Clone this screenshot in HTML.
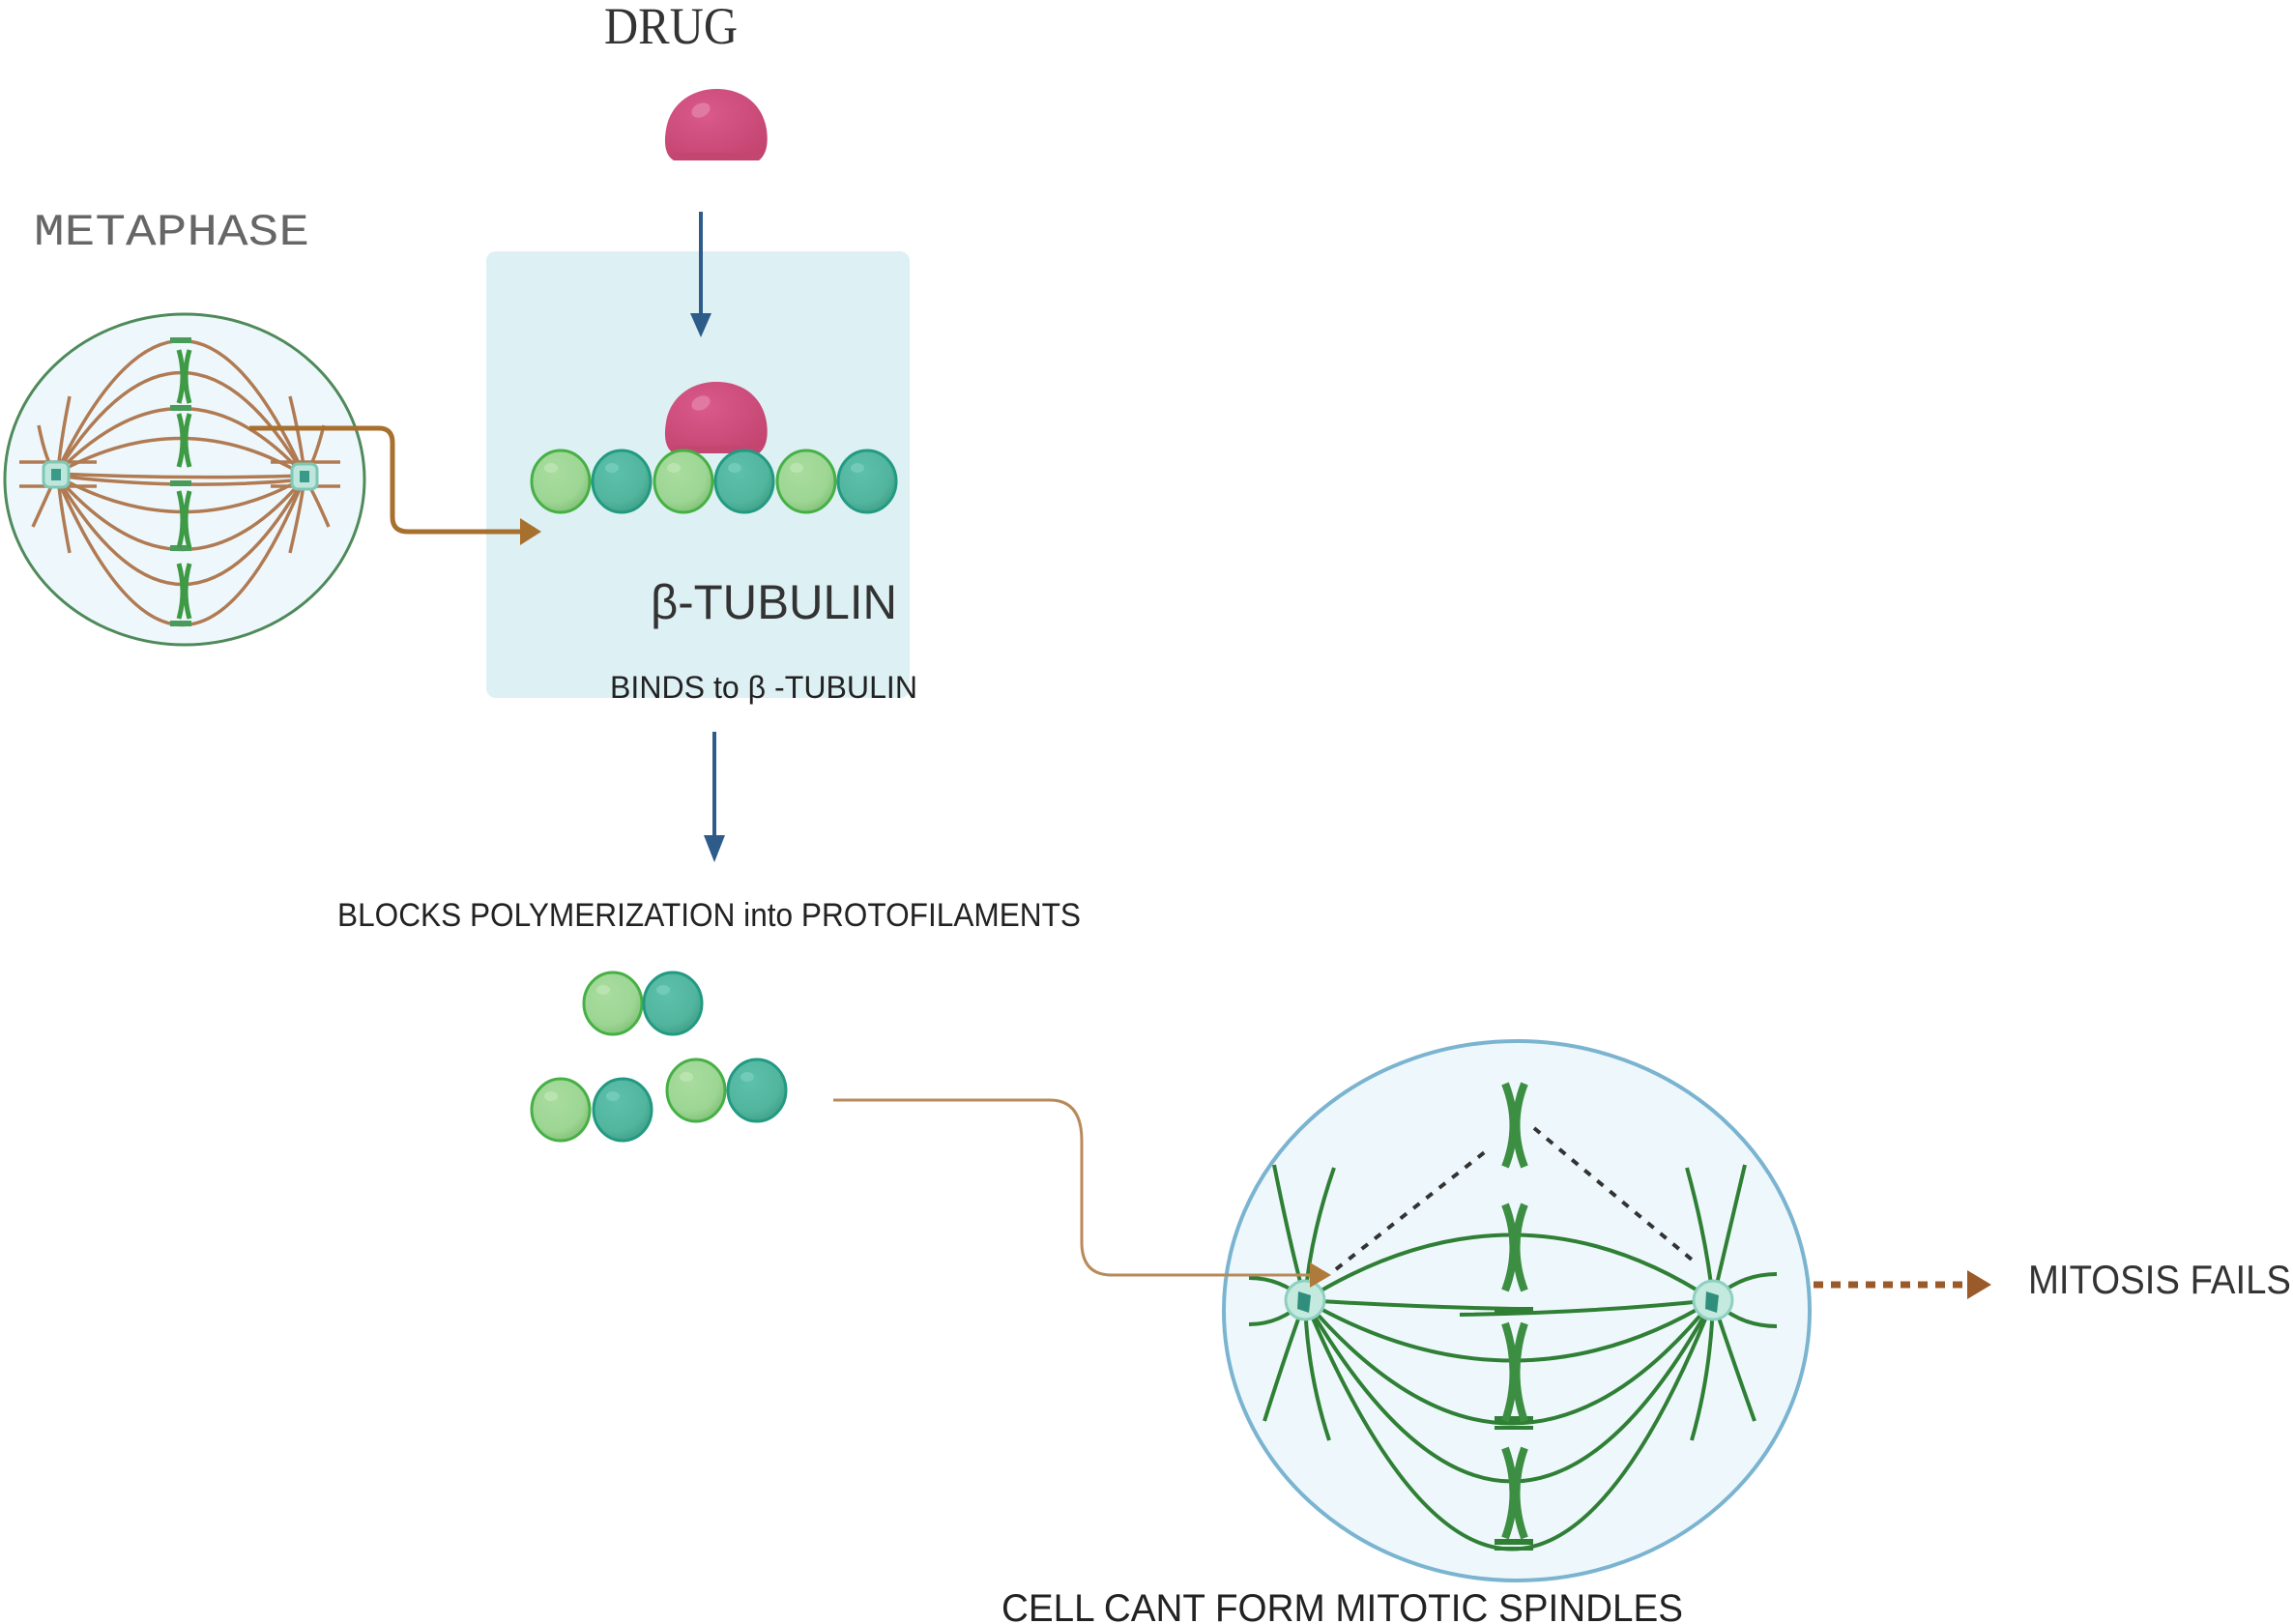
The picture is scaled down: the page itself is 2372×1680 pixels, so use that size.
<!DOCTYPE html>
<html><head><meta charset="utf-8"><style>
html,body{margin:0;padding:0;background:#fff;}
svg{display:block;}
</style></head><body>
<svg width="2372" height="1680" viewBox="0 0 2372 1680" xmlns="http://www.w3.org/2000/svg">
<defs>
<radialGradient id="lg" cx="0.4" cy="0.35" r="0.7"><stop offset="0" stop-color="#a8dc9e"/><stop offset="0.7" stop-color="#9dd694"/><stop offset="1" stop-color="#7fbf74"/></radialGradient>
<radialGradient id="tg" cx="0.4" cy="0.35" r="0.7"><stop offset="0" stop-color="#5cc0ac"/><stop offset="0.7" stop-color="#52b59e"/><stop offset="1" stop-color="#3f9e86"/></radialGradient>
<radialGradient id="dg" cx="0.4" cy="0.35" r="0.75"><stop offset="0" stop-color="#d95a8c"/><stop offset="1" stop-color="#c4446f"/></radialGradient>
<symbol id="bl" viewBox="-32 -34 64 68"><ellipse cx="0" cy="0" rx="30" ry="32" fill="url(#lg)" stroke="#46b045" stroke-width="3"/><ellipse cx="-10" cy="-14" rx="7" ry="5" fill="#b9e4b0"/></symbol>
<symbol id="bt" viewBox="-32 -34 64 68"><ellipse cx="0" cy="0" rx="30" ry="32" fill="url(#tg)" stroke="#229a82" stroke-width="3"/><ellipse cx="-10" cy="-14" rx="7" ry="5" fill="#72cab8"/></symbol>
<symbol id="drug" viewBox="0 0 108 80"><path d="M10,76 C0,70 0,56 2,44 C6,18 28,2 54,2 C82,2 102,18 106,44 C108,58 106,70 98,76 Z" fill="url(#dg)"/><path d="M10,76 L98,76 C100,72 100,70 98,68 L10,68 C8,70 8,72 10,76Z" fill="#c24670"/><ellipse cx="38" cy="24" rx="10" ry="7" fill="#e07aa2" transform="rotate(-25 38 24)"/></symbol>
</defs>

<text x="625" y="45" font-family="Liberation Serif, serif" font-size="54" fill="#333" textLength="138" lengthAdjust="spacingAndGlyphs">DRUG</text>
<text x="35" y="253" font-family="Liberation Mono, monospace" font-size="46" fill="#666" textLength="285" lengthAdjust="spacingAndGlyphs">METAPHASE</text>

<use href="#drug" x="687" y="90" width="108" height="80"/>
<rect x="503" y="260" width="438" height="462" rx="10" fill="#ddf0f4"/>
<line x1="725" y1="219" x2="725" y2="330" stroke="#2d5b8a" stroke-width="4"/>
<path d="M714,324 L736,324 L725,349 Z" fill="#2d5b8a"/>
<use href="#drug" x="687" y="393" width="108" height="80"/>
<use href="#bl" x="548" y="464" width="64" height="68"/>
<use href="#bt" x="611" y="464" width="64" height="68"/>
<use href="#bl" x="675" y="464" width="64" height="68"/>
<use href="#bt" x="738" y="464" width="64" height="68"/>
<use href="#bl" x="802" y="464" width="64" height="68"/>
<use href="#bt" x="865" y="464" width="64" height="68"/>
<text x="673" y="640" font-family="Liberation Sans, sans-serif" font-size="50" fill="#333" textLength="255" lengthAdjust="spacingAndGlyphs">β-TUBULIN</text>
<text x="631" y="722" font-family="Liberation Sans, sans-serif" font-size="32" fill="#222" textLength="318" lengthAdjust="spacingAndGlyphs">BINDS to β -TUBULIN</text>

<line x1="739" y1="757" x2="739" y2="870" stroke="#2d5b8a" stroke-width="4"/>
<path d="M728,864 L750,864 L739,892 Z" fill="#2d5b8a"/>
<text x="349" y="958" font-family="Liberation Sans, sans-serif" font-size="34" fill="#222" textLength="769" lengthAdjust="spacingAndGlyphs">BLOCKS POLYMERIZATION into PROTOFILAMENTS</text>

<use href="#bl" x="602" y="1004" width="64" height="68"/>
<use href="#bt" x="664" y="1004" width="64" height="68"/>
<use href="#bl" x="548" y="1114" width="64" height="68"/>
<use href="#bt" x="612" y="1114" width="64" height="68"/>
<use href="#bl" x="688" y="1094" width="64" height="68"/>
<use href="#bt" x="751" y="1094" width="64" height="68"/>

<!-- metaphase cell -->
<ellipse cx="191" cy="496" rx="186" ry="171" fill="#eef8fc" stroke="#4e8a5a" stroke-width="3"/>
<g fill="none" stroke="#b07a52" stroke-width="3.5">
<path d="M58,490 Q190,214 315,492"/>
<path d="M58,490 Q190,280 315,492"/>
<path d="M58,490 Q190,354 315,492"/>
<path d="M58,490 Q190,416 315,492"/>
<path d="M58,490 Q190,496 315,492"/>
<path d="M58,492 Q190,508 315,496"/>
<path d="M58,492 Q190,566 315,494"/>
<path d="M58,492 Q190,644 315,494"/>
<path d="M58,492 Q190,716 315,494"/>
<path d="M58,492 Q190,800 315,494"/>
<path d="M20,478 L100,478 M20,503 L100,503 M280,478 L352,478 M280,503 L352,503"/>
<path d="M40,440 Q48,480 58,490 M72,410 Q62,460 60,490 M34,545 Q50,510 58,492 M72,572 Q62,520 60,492"/>
<path d="M335,440 Q325,480 315,492 M300,410 Q312,460 315,492 M340,545 Q325,510 315,494 M300,572 Q312,520 315,494"/>
</g>
<g fill="#4a9a5a">
<rect x="176" y="349" width="22" height="6"/><rect x="176" y="419" width="22" height="6"/><rect x="176" y="497" width="22" height="6"/><rect x="176" y="564" width="22" height="6"/><rect x="176" y="642" width="22" height="6"/>
</g>
<g fill="none" stroke="#3f9a45" stroke-width="5">
<path d="M185,362 Q193,390 185,417 M196,362 Q188,390 196,417"/>
<path d="M185,428 Q193,455 185,483 M196,428 Q188,455 196,483"/>
<path d="M185,508 Q193,538 185,567 M196,508 Q188,538 196,567"/>
<path d="M185,583 Q193,612 185,640 M196,583 Q188,612 196,640"/>
</g>
<rect x="45" y="478" width="26" height="26" rx="6" fill="#bfe6dc" stroke="#7cc8b6" stroke-width="3"/><rect x="53" y="485" width="10" height="12" fill="#3a9a88"/>
<rect x="302" y="480" width="26" height="26" rx="6" fill="#bfe6dc" stroke="#7cc8b6" stroke-width="3"/><rect x="310" y="487" width="10" height="12" fill="#3a9a88"/>
<path d="M258,443 L392,443 Q406,443 406,458 L406,535 Q406,550 422,550 L542,550" fill="none" stroke="#a8702e" stroke-width="5"/>
<path d="M538,536 L560,550 L538,564 Z" fill="#a8702e"/>

<!-- cell 2 -->
<ellipse cx="1569" cy="1356" rx="303" ry="279" fill="#eef8fc" stroke="#7ab4d0" stroke-width="4"/>
<g fill="none" stroke="#2f7f35" stroke-width="4">
<path d="M1350,1345 Q1567,1210 1772,1345"/>
<path d="M1350,1345 Q1460,1352 1567,1354 M1510,1360 Q1650,1358 1772,1345"/>
<path d="M1350,1345 Q1567,1470 1772,1345"/>
<path d="M1350,1345 Q1567,1600 1772,1345"/>
<path d="M1350,1345 Q1567,1720 1772,1345"/>
<path d="M1350,1345 Q1567,1860 1772,1345"/>
<path d="M1318,1205 Q1335,1290 1350,1345 M1380,1208 Q1355,1280 1350,1345"/>
<path d="M1308,1470 Q1330,1400 1350,1345 M1375,1490 Q1352,1420 1350,1345"/>
<path d="M1292,1322 Q1325,1322 1350,1345 M1292,1370 Q1325,1370 1350,1345"/>
<path d="M1805,1205 Q1785,1290 1772,1345 M1745,1208 Q1765,1280 1772,1345"/>
<path d="M1815,1470 Q1790,1400 1772,1345 M1750,1490 Q1770,1420 1772,1345"/>
<path d="M1838,1318 Q1800,1318 1772,1345 M1838,1372 Q1800,1372 1772,1345"/>
</g>
<g fill="#2f7f35">
<rect x="1546" y="1352" width="40" height="6"/><rect x="1546" y="1465" width="40" height="6"/><rect x="1546" y="1475" width="40" height="4"/><rect x="1546" y="1592" width="40" height="6"/><rect x="1546" y="1600" width="40" height="4"/>
</g>
<g fill="none" stroke="#3c8f42" stroke-width="8">
<path d="M1557,1121 Q1574,1164 1557,1207 M1577,1121 Q1560,1164 1577,1207"/>
<path d="M1557,1246 Q1574,1290 1557,1335 M1577,1246 Q1560,1290 1577,1335"/>
<path d="M1557,1369 Q1574,1420 1557,1470 M1577,1369 Q1560,1420 1577,1470"/>
<path d="M1557,1498 Q1574,1545 1557,1591 M1577,1498 Q1560,1545 1577,1591"/>
</g>
<g stroke="#333" stroke-width="4" stroke-dasharray="8,9" fill="none">
<line x1="1382" y1="1313" x2="1542" y2="1187"/>
<line x1="1587" y1="1167" x2="1756" y2="1308"/>
</g>
<circle cx="1350" cy="1345" r="20" fill="#c4eadf" stroke="#8ed0c0" stroke-width="3"/><path d="M1343,1336 L1356,1340 L1354,1358 L1342,1354Z" fill="#2f8f7c"/>
<circle cx="1772" cy="1345" r="20" fill="#c4eadf" stroke="#8ed0c0" stroke-width="3"/><path d="M1765,1336 L1778,1340 L1776,1358 L1764,1354Z" fill="#2f8f7c"/>

<!-- brown arrow 2 (on top) -->
<path d="M862,1138 L1086,1138 Q1119,1138 1119,1180 L1119,1285 Q1119,1319 1150,1319 L1358,1319" fill="none" stroke="#b88a5a" stroke-width="3"/>
<path d="M1355,1306 L1377,1319 L1355,1332 Z" fill="#b07a3a"/>

<line x1="1876" y1="1329" x2="2040" y2="1329" stroke="#9a5a2a" stroke-width="7" stroke-dasharray="10,8"/>
<path d="M2035,1314 L2060,1329 L2035,1344 Z" fill="#9a5a2a"/>
<text x="2098" y="1338" font-family="Liberation Sans, sans-serif" font-size="42" fill="#333" textLength="272" lengthAdjust="spacingAndGlyphs">MITOSIS FAILS</text>
<text x="1036" y="1677" font-family="Liberation Sans, sans-serif" font-size="40" fill="#222" textLength="705" lengthAdjust="spacingAndGlyphs">CELL CANT FORM MITOTIC SPINDLES</text>
</svg>
</body></html>
